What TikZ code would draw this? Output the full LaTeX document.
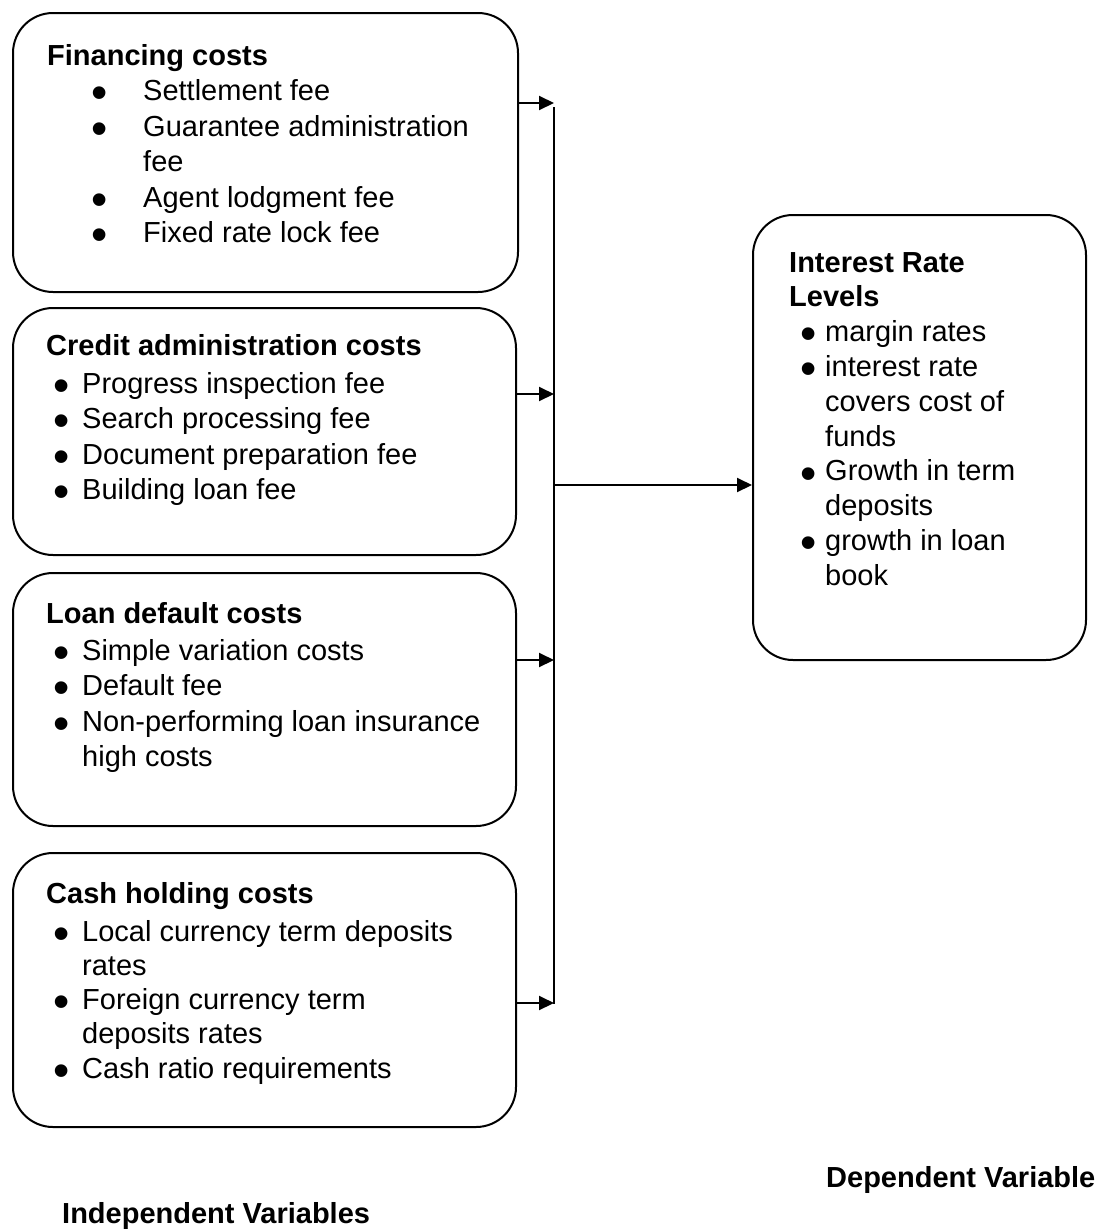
\documentclass[tikz,border=0pt]{standalone}
\usepackage{fontspec}
\setmainfont{Liberation Sans}
\usetikzlibrary{arrows.meta}

\newcommand{\bdot}{\smash{\raisebox{-0.28em}{\scalebox{1.6}{\textbullet}}}}
\newcommand{\bitem}[3]{\hspace*{#1}\makebox[#2][l]{\bdot}#3}
\newcommand{\bcont}[2]{\hspace*{#1}#2}

\begin{document}
\begin{tikzpicture}[x=1pt, y=-1pt,
    box/.style={draw, line width=2pt, rounded corners=40pt},
    txt/.style={anchor=north west, inner sep=0pt, align=left, font=\fontsize{29pt}{35.5pt}\selectfont},
    vartitle/.style={anchor=base west, inner sep=0pt, font=\fontsize{29pt}{32pt}\selectfont\bfseries},
    arr/.style={-{Triangle[length=15pt,width=14pt]}, line width=2pt}]
		  \useasboundingbox (0,0) rectangle (1096,1229);

		  % Boxes
		  \node[box, minimum width=505pt, minimum height=279pt] (fin) at (265.5,152.5) {};
		  \node[box, minimum width=503pt, minimum height=247pt] (cred) at (264.5,431.5) {};
		  \node[box, minimum width=503pt, minimum height=253pt] (loan) at (264.5,699.5) {};
		  \node[box, minimum width=503pt, minimum height=274pt] (cash) at (264.5,990) {};
		  \node[box, minimum width=333pt, minimum height=445pt] (rate) at (919.5,437.5) {};

		  % Texts
		  \node[txt] (fintxt) at (47,44) {\textbf{Financing costs}\\
		    \bitem{44pt}{52pt}{Settlement fee}\\
		    \bitem{44pt}{52pt}{Guarantee administration}\\
		    \bcont{96pt}{fee}\\
		    \bitem{44pt}{52pt}{Agent lodgment fee}\\
		    \bitem{44pt}{52pt}{Fixed rate lock fee}};
		  \node[txt] (credtxt) at (46,334) {\textbf{Credit administration costs}\\[2.5pt]
		    \bitem{7pt}{29pt}{Progress inspection fee}\\
		    \bitem{7pt}{29pt}{Search processing fee}\\
		    \bitem{7pt}{29pt}{Document preparation fee}\\
		    \bitem{7pt}{29pt}{Building loan fee}};
		  \node[txt] (loantxt) at (46,602) {\textbf{Loan default costs}\\[1.5pt]
		    \bitem{7pt}{29pt}{Simple variation costs}\\
		    \bitem{7pt}{29pt}{Default fee}\\
		    \bitem{7pt}{29pt}{Non-performing loan insurance}\\
		    \bcont{36pt}{high costs}};
		  \node[txt, font=\fontsize{29pt}{34.3pt}\selectfont] (cashtxt) at (46,882) {\textbf{Cash holding costs}\\[3.5pt]
		    \bitem{7pt}{29pt}{Local currency term deposits}\\
		    \bcont{36pt}{rates}\\
		    \bitem{7pt}{29pt}{Foreign currency term}\\
		    \bcont{36pt}{deposits rates}\\
		    \bitem{7pt}{29pt}{Cash ratio requirements}};
		  \node[txt, font=\fontsize{29pt}{34.8pt}\selectfont] (ratetxt) at (789,252) {\textbf{Interest Rate}\\
		    \textbf{Levels}\\
		    \bitem{11pt}{25pt}{margin rates}\\
		    \bitem{11pt}{25pt}{interest rate}\\
		    \bcont{36pt}{covers cost of}\\
		    \bcont{36pt}{funds}\\
		    \bitem{11pt}{25pt}{Growth in term}\\
		    \bcont{36pt}{deposits}\\
		    \bitem{11pt}{25pt}{growth in loan}\\
		    \bcont{36pt}{book}};

		  % Captions
		  \node[vartitle] (dep) at (826,1187) {Dependent Variable};
		  \node[vartitle] (indep) at (62,1223) {Independent Variables};

		  % Collecting line
		  \coordinate (bustop) at (554,107);
		  \coordinate (busbot) at (554,1004);
		  \coordinate (b1) at (554,103);
		  \coordinate (b2) at (554,394);
		  \coordinate (b3) at (554,660);
		  \coordinate (b4) at (554,1003);
		  \coordinate (bmid) at (554,485);
		  \draw[line width=1.3pt] (bustop) -- (busbot);

		  % Arrows
		  \draw[arr] (fin.east |- b1) -- (b1);
		  \draw[arr] (cred.east |- b2) -- (b2);
		  \draw[arr] (loan.east |- b3) -- (b3);
		  \draw[arr] (cash.east |- b4) -- (b4);
		  \draw[arr] (bmid) -- (rate.west |- bmid); % to dependent box
		\end{tikzpicture}
\end{document}
